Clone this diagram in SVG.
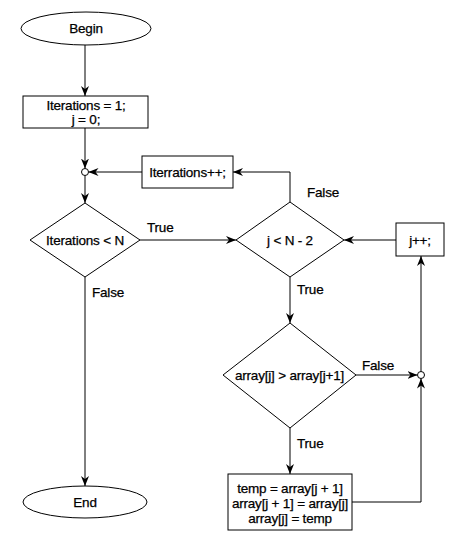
<svg xmlns="http://www.w3.org/2000/svg" width="458" height="542" viewBox="0 0 458 542">
<defs>
<marker id="arr" viewBox="0 0 10 8" refX="10" refY="4" markerWidth="10" markerHeight="8" markerUnits="userSpaceOnUse" orient="auto">
<path d="M0,0 L10,4 L0,8 L3,4 z" fill="#000"/>
</marker>
<style>
.s{fill:#fff;stroke:#000;stroke-width:1}
.c{fill:none;stroke:#000;stroke-width:1;marker-end:url(#arr)}
.l{fill:none;stroke:#000;stroke-width:1}
text{font-family:"Liberation Sans",Arial,sans-serif;font-size:13.5px;fill:#000;stroke:#000;stroke-width:0.25;letter-spacing:-0.2px}
.m{text-anchor:middle}
</style>
</defs>
<rect width="458" height="542" fill="#fff"/>
<g id="connectors">
<line class="c" x1="85" y1="45" x2="85" y2="96"/>
<line class="c" x1="85" y1="128" x2="85" y2="168.5"/>
<line class="c" x1="142" y1="172" x2="88.5" y2="172"/>
<line class="c" x1="85" y1="175.5" x2="85" y2="203"/>
<line class="c" x1="140" y1="240" x2="236" y2="240"/>
<polyline class="c" points="290,202 290,172 233,172"/>
<line class="c" x1="396" y1="240" x2="344" y2="240"/>
<line class="c" x1="421" y1="371.5" x2="421" y2="256"/>
<line class="c" x1="290" y1="277" x2="290" y2="323"/>
<line class="c" x1="356" y1="375" x2="417.5" y2="375"/>
<line class="c" x1="290" y1="428" x2="290" y2="474"/>
<polyline class="c" points="352,502 421,502 421,378.5"/>
<line class="c" x1="85" y1="277" x2="85" y2="486"/>
<circle class="s" cx="85" cy="172" r="3.5"/>
<circle class="s" cx="421" cy="375" r="3.5"/>
<text x="147" y="232">True</text>
<text x="307" y="197">False</text>
<text x="297" y="294">True</text>
<text x="362" y="370">False</text>
<text x="297" y="448">True</text>
<text x="92" y="297">False</text>
</g>
<g id="begin">
<ellipse class="s" cx="86" cy="28.5" rx="65" ry="16.5"/>
<text class="m" x="86" y="33">Begin</text>
</g>
<g id="init">
<rect class="s" x="23" y="96" width="125" height="32"/>
<text class="m" x="86" y="110">Iterations = 1;</text>
<text class="m" x="86" y="124">j = 0;</text>
</g>
<g id="iterinc">
<rect class="s" x="142" y="156" width="91" height="32"/>
<text class="m" x="187.5" y="176.5">Iterrations++;</text>
</g>
<g id="cond1">
<polygon class="s" points="85,203 140,240 85,277 30,240"/>
<text class="m" x="85" y="244.5">Iterations &lt; N</text>
</g>
<g id="cond2">
<polygon class="s" points="290,202 344,240 290,277 236,240"/>
<text class="m" x="290" y="244.5">j &lt; N - 2</text>
</g>
<g id="jinc">
<rect class="s" x="396" y="223" width="48" height="33"/>
<text class="m" x="420" y="244.5">j++;</text>
</g>
<g id="cond3">
<polygon class="s" points="290,323 356,375 290,428 223,375"/>
<text class="m" x="289.5" y="379.5">array[j] &gt; array[j+1]</text>
</g>
<g id="swap">
<rect class="s" x="228" y="474" width="124" height="56"/>
<text class="m" x="290" y="492.5">temp = array[j + 1]</text>
<text class="m" x="290" y="507.5">array[j + 1] = array[j]</text>
<text class="m" x="290" y="523">array[j] = temp</text>
</g>
<g id="end">
<ellipse class="s" cx="85" cy="502" rx="62" ry="16"/>
<text class="m" x="85" y="506.5">End</text>
</g>
</svg>
